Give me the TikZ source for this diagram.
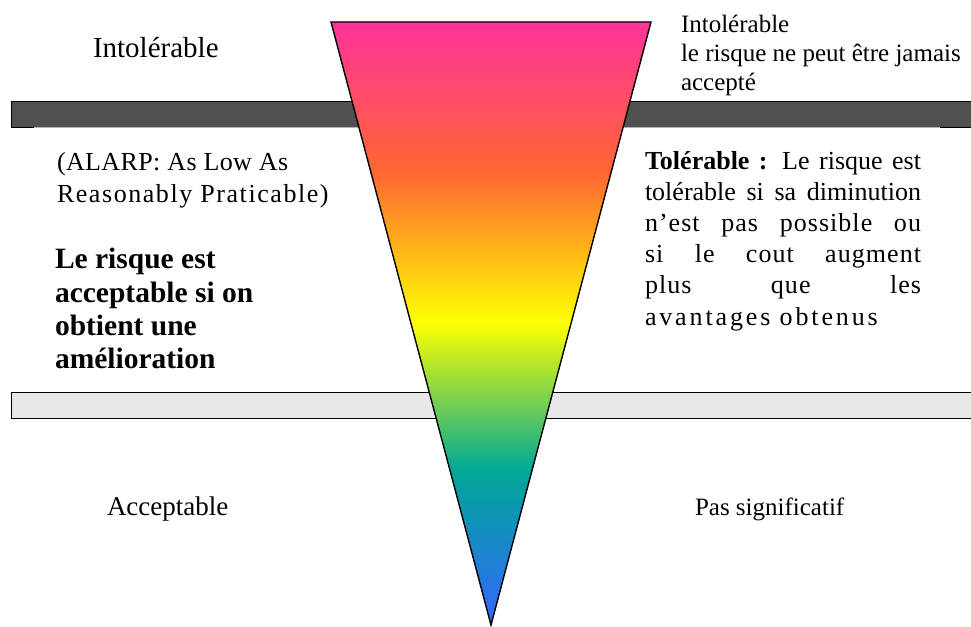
\documentclass[tikz,border=0pt]{standalone}
\usepackage{fontspec}
\setmainfont{Liberation Serif}
\definecolor{cpink}{HTML}{FF3399}
\definecolor{corange}{HTML}{FF6633}
\definecolor{cyellow}{HTML}{FFFF00}
\definecolor{cteal}{HTML}{00A896}
\definecolor{cblue}{HTML}{3366FF}
\definecolor{bardark}{HTML}{505050}
\definecolor{barlight}{HTML}{E8E8E8}
\definecolor{edgegray}{HTML}{B4B4B4}
\pgfdeclareverticalshading{riskshade}{100bp}{color(0bp)=(cblue); color(25bp)=(cblue); color(37.85bp)=(cteal); color(50.12bp)=(cyellow); color(62.56bp)=(corange); color(75bp)=(cpink); color(100bp)=(cpink)}
\newcommand\lsp[2]{{\addfontfeatures{LetterSpace=#1}#2}}
\tikzset{
  txt/.style={anchor=base west, inner sep=0pt, outer sep=0pt, text=black},
  fs/.style={font=\fontsize{#1}{#1}\selectfont},
  fsb/.style={font=\fontsize{#1}{#1}\selectfont\bfseries},
}
\begin{document}
\begin{tikzpicture}[x=1pt,y=-1pt]
\useasboundingbox (0,0) rectangle (971,626);
% bars
\fill[bardark] (11,101) rectangle (990,127);
\draw[black, line width=1pt] (11,127) -- (11,101) -- (990,101);
\draw[black, line width=1pt] (11,127) -- (34,127);
\draw[edgegray, line width=1pt] (34,127) -- (940,127);
\draw[black, line width=1pt] (940,127) -- (990,127);
\fill[barlight] (11,392) rectangle (990,418);
\draw[black, line width=1pt] (990,392) -- (11,392) -- (11,418) -- (990,418);
% triangle
\coordinate (tl) at (331,22);
\coordinate (tr) at (651,22);
\coordinate (tip) at (491,625);
\path[shading=riskshade, draw=black, line width=1.4pt, line join=miter] (tl) -- (tr) -- (tip) -- cycle;
% texts
\node[txt, fs=29] (intolL) at (93,58) {Intolérable};
\node[txt, fs=25] (intolR1) at (681,33) {Intolérable};
\node[txt, fs=25] (intolR2) at (681,62) {le risque ne peut être jamais};
\node[txt, fs=25] (intolR3) at (681,90) {accepté};
\node[txt, fs=26] (alarp1) at (57,170) {\lsp{1.5}{(ALARP: As Low As}};
\node[txt, fs=26] (alarp2) at (57,202) {\lsp{6}{Reasonably Praticable)}};
\node[txt, fsb=29.5] (acc1) at (55,268) {Le risque est};
\node[txt, fsb=29.5] (acc2) at (55,302) {acceptable si on};
\node[txt, fsb=29.5] (acc3) at (55,335) {obtient une};
\node[txt, fsb=29.5] (acc4) at (55,368) {amélioration};
\node[txt, fs=26] (tol1) at (645,169) {\makebox[276pt][s]{\textbf{Tolérable :} Le risque est}};
\node[txt, fs=26] (tol2) at (645,200) {\makebox[276pt][s]{tolérable si sa diminution}};
\node[txt, fs=26] (tol3) at (645,231) {\makebox[276pt][s]{\lsp{4}{n’est pas possible ou}}};
\node[txt, fs=26] (tol4) at (645,262) {\makebox[276pt][s]{\lsp{4}{si le cout augment}}};
\node[txt, fs=26] (tol5) at (645,293) {\makebox[276pt][s]{\lsp{4}{plus que les}}};
\node[txt, fs=26] (tol6) at (645,325) {\lsp{11}{avantages obtenus}};
\node[txt, fs=27] (acc) at (107,515) {Acceptable};
\node[txt, fs=25] (pas) at (695,515) {Pas significatif};
\end{tikzpicture}
\end{document}
